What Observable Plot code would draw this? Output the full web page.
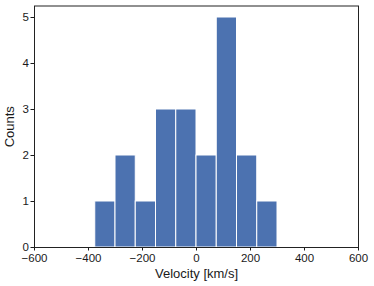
<!DOCTYPE html>
<html>
<head>
<meta charset="utf-8">
<script src="https://cdn.jsdelivr.net/npm/d3@7"></script>
<script src="https://cdn.jsdelivr.net/npm/@observablehq/plot@0.6"></script>
<style>
  html, body { margin: 0; padding: 0; background: #fff; }
  #chart svg { display: block; }
</style>
</head>
<body>
<div id="chart"></div>
<script>
const binStart = [-375, -300, -225, -150, -75, 0, 75, 150, 225];
const binEnd   = [-300, -225, -150, -75, 0, 75, 150, 225, 300];
const counts   = [1, 2, 1, 3, 3, 2, 5, 2, 1];
const xTicks = [-600, -400, -200, 0, 200, 400, 600];
const yTicks = [0, 1, 2, 3, 4, 5];

const data = binStart.map((s, i) => ({x1: s, x2: binEnd[i], y: counts[i]}));

const chart = Plot.plot({
  width: 374,
  height: 286,
  marginLeft: 34,
  marginRight: 16,
  marginTop: 5.5,
  marginBottom: 39,
  style: {fontFamily: "'Liberation Sans', Arial, sans-serif", fontSize: "11.5px", color: "#1a1a1a"},
  x: {domain: [-600, 600], ticks: xTicks, tickSize: 3.5, tickPadding: 3, label: "Velocity [km/s]", labelAnchor: "center", labelArrow: "none", labelOffset: 30, tickFormat: d => d < 0 ? "\u2212" + Math.abs(d) : String(d)},
  y: {domain: [0, 5.25], ticks: yTicks, tickSize: 3.5, tickPadding: 2, tickFormat: d => String(d), label: "Counts", labelAnchor: "center", labelOffset: 30, labelArrow: "none"},
  marks: [
    Plot.rectY(data, {x1: "x1", x2: "x2", y: "y", fill: "#4c72b0", stroke: "#fff", strokeWidth: 1}),
    Plot.frame({stroke: "#222", strokeWidth: 1})
  ]
});
document.getElementById("chart").appendChild(chart);
chart.querySelectorAll("g[aria-label='x-axis label'] text, g[aria-label='y-axis label'] text").forEach(t => t.style.fontSize = "13px");
</script>
</body>
</html>
